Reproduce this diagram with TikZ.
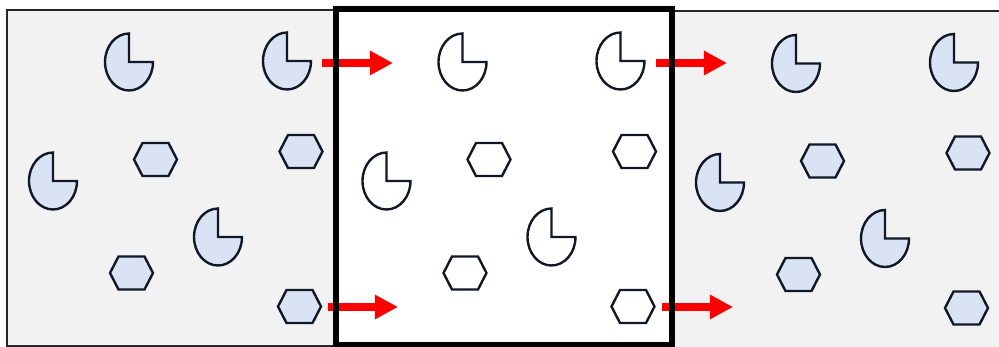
\documentclass[tikz,border=0pt]{standalone}
\usepackage{xcolor}
\usepackage{tikz}
\usetikzlibrary{arrows.meta}
\definecolor{PanelGray}{HTML}{F2F2F2}
\definecolor{ParticleBlue}{HTML}{DAE3F3}
\definecolor{EdgeNavy}{HTML}{101828}
\definecolor{FlowRed}{HTML}{FF0000}

\tikzset{
  particle/.style={draw=EdgeNavy, line width=1.7pt, line join=miter},
  pics/pacman/.style={code={
    \draw[particle, fill=#1] (0,0) -- (0,-28.5)
      arc[start angle=-90, end angle=-360, x radius=24, y radius=28.5] -- cycle;}},
  pics/hexa/.style={code={
    \draw[particle, fill=#1] (-21.5,0) -- (-13,-16.5) -- (13,-16.5) -- (21.5,0)
      -- (13,16.5) -- (-13,16.5) -- cycle;}},
  flow/.style={draw=FlowRed, line width=5.2pt, -{Triangle[length=16.5pt, width=16.5pt]}},
  wall/.style={draw=black, line width=4.6pt}
}

\begin{document}
\begin{tikzpicture}[x=0.025cm, y=-0.025cm]
  \useasboundingbox (0,0) rectangle (999,347);
  % side panels
  \fill[PanelGray] (7,10) rectangle (336,346);
  \fill[PanelGray] (672,11) rectangle (1005,350);
  \draw[line width=1.1pt, black!85] (336,10) -- (7,10) -- (7,346) -- (336,346);
  \draw[line width=1.1pt, black!85] (672,11) -- (1005,11);
  % middle panel
  \fill[white] (336,9) rectangle (672,345);

  % particles: shift and fill per panel
  \foreach \dx/\dy/\tone in {0/0/ParticleBlue, 333.5/0/white, 667/1.5/ParticleBlue} {
    \begin{scope}[shift={(\dx,\dy)}]
      \pic at (129,62)  {pacman=\tone};
      \pic at (287,61)  {pacman=\tone};
      \pic at (53,181)  {pacman=\tone};
      \pic at (218,237) {pacman=\tone};
      \pic at (155.5,159.5) {hexa=\tone};
      \pic at (301,151.5)   {hexa=\tone};
      \pic at (131.5,273)   {hexa=\tone};
      \pic at (299.5,306.5) {hexa=\tone};
    \end{scope}
  }

  % flow arrows
  \coordinate (inTop)     at (322,63);
  \coordinate (inTopEnd)  at (393,63);
  \coordinate (inBot)     at (328,307);
  \coordinate (inBotEnd)  at (398,307);
  \coordinate (outTop)    at (656,63);
  \coordinate (outTopEnd) at (727,63);
  \coordinate (outBot)    at (662,307);
  \coordinate (outBotEnd) at (733,307);
  \draw[flow] (inTop) -- (inTopEnd);
  \draw[flow] (inBot) -- (inBotEnd);
  \draw[flow] (outTop) -- (outTopEnd);
  \draw[flow] (outBot) -- (outBotEnd);

  % thick wall of the middle panel
  \draw[wall] (336,9) rectangle (672,345);
\end{tikzpicture}
\end{document}
